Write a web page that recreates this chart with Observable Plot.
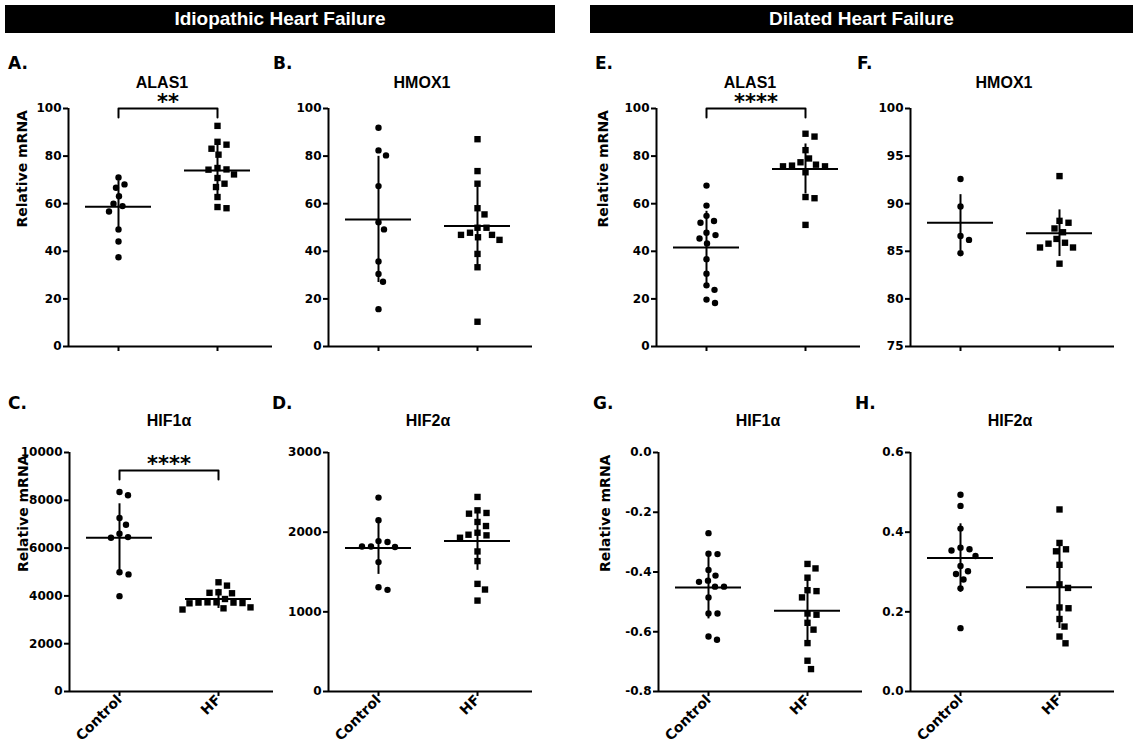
<!DOCTYPE html>
<html><head><meta charset="utf-8">
<script src="https://cdn.jsdelivr.net/npm/d3@7"></script>
<script src="https://cdn.jsdelivr.net/npm/@observablehq/plot@0.6"></script>
<style>
body{margin:0;background:#fff;}
#fig{position:relative;width:1136px;height:751px;overflow:hidden;background:#fff;font-family:"Liberation Sans",Arial,sans-serif;color:#000;}
.hdr{position:absolute;background:#000;color:#fff;font-weight:bold;font-size:19px;display:flex;align-items:center;justify-content:center;}
.letter{position:absolute;font-family:"DejaVu Sans",sans-serif;font-weight:bold;font-size:17px;line-height:1;transform:translateY(-50%);}
.ttl{position:absolute;font-weight:bold;font-size:16px;line-height:1;transform:translate(-50%,-50%);white-space:nowrap;}
</style></head><body><div id="fig"></div><script>
// ---------------- data ----------------
const groups = ["Control", "HF"];
const headers = ["Idiopathic Heart Failure", "Dilated Heart Failure"];
const panelIds = ["A", "B", "C", "D", "E", "F", "G", "H"];
const genes = ["ALAS1", "HMOX1", "HIF1α", "HIF2α", "ALAS1", "HMOX1", "HIF1α", "HIF2α"];
const yLabel = "Relative mRNA";
const yDomains = [[0,100],[0,100],[0,10000],[0,3000],[0,100],[75,100],[-0.8,0],[0,0.6]];
const yTicks = [
  [0,20,40,60,80,100],
  [0,20,40,60,80,100],
  [0,2000,4000,6000,8000,10000],
  [0,1000,2000,3000],
  [0,20,40,60,80,100],
  [75,80,85,90,95,100],
  [-0.8,-0.6,-0.4,-0.2,0],
  [0,0.2,0.4,0.6]
];
const tickDecimals = [0,0,0,0,0,0,1,1];
const significance = ["**", "", "****", "", "****", "", "", ""];
const bracketLevel = [100, null, 9250, null, 100, null, null, null];

const A_control = [71, 68.1, 66.7, 63.1, 59.0, 60.0, 56.7, 49.2, 44.1, 37.5];
const A_hf = [92.7, 86.0, 84.8, 83.1, 80.6, 75.0, 74.4, 74.3, 70.8, 72.3, 68.4, 67.0, 62.8, 58.1, 58.6];
const B_control = [91.9, 82.4, 80.3, 67.4, 52.2, 49.2, 35.7, 30.5, 27.2, 15.7];
const B_hf = [87.1, 73.7, 68.4, 58.1, 55.5, 49.9, 49.9, 46.9, 45.9, 44.8, 46.9, 47.8, 38.9, 33.3, 10.4];
const C_control = [8210, 8350, 7260, 6980, 6600, 6430, 6460, 4990, 4900, 3990];
const C_hf = [4570, 4430, 4150, 4110, 4130, 3870, 3730, 3720, 3700, 3690, 3730, 3720, 3480, 3430, 3520];
const D_control = [2434, 2149, 1888, 1821, 1821, 1813, 1876, 1624, 1276, 1309];
const D_hf = [2442, 2241, 2232, 2274, 2128, 2077, 1993, 1960, 1930, 1968, 1758, 1637, 1351, 1280, 1141];
const E_control = [67.6, 59.2, 52.7, 52.0, 54.9, 46.8, 47.8, 45.4, 43.3, 36.7, 30.6, 25.7, 23.8, 19.7, 18.3];
const E_hf = [89.4, 88.2, 82.5, 79.0, 77.4, 76.4, 75.7, 76.0, 75.7, 73.2, 62.8, 62.3, 51.1];
const F_control = [92.6, 89.7, 86.6, 86.2, 84.8];
const F_hf = [92.9, 88.2, 88.0, 87.4, 87.0, 85.9, 85.4, 85.4, 85.8, 86.3, 83.7];
const G_control = [-0.270, -0.339, -0.340, -0.393, -0.412, -0.429, -0.433, -0.449, -0.449, -0.485, -0.539, -0.539, -0.627, -0.616];
const G_hf = [-0.373, -0.388, -0.419, -0.461, -0.464, -0.485, -0.539, -0.543, -0.570, -0.593, -0.638, -0.697, -0.725];
const H_control = [0.494, 0.466, 0.409, 0.357, 0.340, 0.354, 0.361, 0.315, 0.302, 0.295, 0.281, 0.259, 0.159];
const H_hf = [0.457, 0.357, 0.352, 0.373, 0.318, 0.269, 0.260, 0.209, 0.211, 0.182, 0.163, 0.138, 0.121];

const meanControl = [58.7, 53.4, 6434, 1800, 41.6, 88.0, -0.452, 0.335];
const meanHF      = [74.0, 50.6, 3874, 1888, 74.6, 86.9, -0.530, 0.262];
const sdControl   = [10.9, 26.5, 1420, 330, 15.2, 2.95, 0.105, 0.086];
const sdHF        = [10.5, 16.5, 400, 367, 10.5, 2.45, 0.103, 0.104];

const panelValues = [
  [A_control, A_hf], [B_control, B_hf], [C_control, C_hf], [D_control, D_hf],
  [E_control, E_hf], [F_control, F_hf], [G_control, G_hf], [H_control, H_hf]
];

// ---------------- layout ----------------
const fig = document.getElementById("fig");
const gridPos = {A:[0,0], B:[0,1], E:[0,2], F:[0,3], C:[1,0], D:[1,1], G:[1,2], H:[1,3]};
const axisXPos = [[68, 328, 656, 910], [69, 328, 658, 910]];
const frameTop = [108, 452], frameH = [238, 239];
const padL = 50, step = 99, padR = 55, fw = padL + step + padR;
const labelDx = [-46, null, -53, null];
const letterX = [[8, 273, 595, 857], [8, 272, 593, 855]];
const letterY = [63, 403];
const titleDx = [94, 100], titleY = [83, 421];
const dotR = 3.2, sqR = 3.6, meanHalfPx = 33, swarmGap = 9;

// headers
[[5, 555], [590, 1133]].forEach(([x0, x1], k) => {
  const d = document.createElement("div");
  d.className = "hdr";
  Object.assign(d.style, {left: x0 + "px", top: "5px", width: (x1 - x0) + "px", height: "28px"});
  d.textContent = headers[k];
  fig.appendChild(d);
});

function dodge(vals, yScale, gap) {
  const order = d3.range(vals.length).sort((a, b) => vals[b] - vals[a]);
  const placed = [];
  const off = new Array(vals.length).fill(0);
  for (const i of order) {
    const py = yScale(vals[i]);
    let chosen = 0;
    for (let k = 0; k < 400; k++) {
      const c = k === 0 ? 0 : (k % 2 ? 1 : -1) * Math.ceil(k / 2) * 0.5;
      if (placed.every(p => (p.x - c) ** 2 + (p.y - py) ** 2 >= gap * gap)) { chosen = c; break; }
    }
    placed.push({x: chosen, y: py});
    off[i] = chosen;
  }
  return off;
}

panelIds.forEach((id, i) => {
  const [row, col] = gridPos[id];
  const ax = axisXPos[row][col];
  const fh = frameH[row];
  const ml = 70, mr = 6, mt = 32, mb = row ? 64 : 12;
  const xdom = [1 - padL / step, 2 + padR / step];
  const ydom = yDomains[i];
  const yScale = d3.scaleLinear(ydom, [fh, 0]);
  const pxToY = (ydom[1] - ydom[0]) / fh;

  const pts = [[], []];
  panelValues[i].forEach((vals, g) => {
    const off = dodge(vals, yScale, swarmGap);
    vals.forEach((v, j) => pts[g].push({x: g + 1 + off[j] / step, y: v}));
  });
  const stats = [
    {x: 1, mean: meanControl[i], sd: sdControl[i]},
    {x: 2, mean: meanHF[i], sd: sdHF[i]}
  ];
  const fmt = d => d.toFixed(tickDecimals[i]);
  const font = "DejaVu Sans";

  const marks = [
    Plot.ruleY([ydom[0]], {stroke: "#000", strokeWidth: 2}),
    Plot.ruleX([xdom[0]], {stroke: "#000", strokeWidth: 2}),
    Plot.axisY({ticks: yTicks[i], tickFormat: fmt, tickSize: 5, tickPadding: 2, strokeWidth: 2,
      fontSize: 12, fontWeight: "bold", fontFamily: font, label: null}),
    row
      ? Plot.axisX({ticks: [1, 2], tickFormat: d => groups[d - 1], tickSize: 5, tickPadding: 1, tickRotate: -45,
          strokeWidth: 2, fontSize: 14, fontWeight: "bold", fontFamily: font, label: null})
      : Plot.axisX({ticks: [1, 2], tickFormat: () => "", tickSize: 5, strokeWidth: 2, label: null}),
    Plot.ruleX(stats, {x: "x", y1: d => d.mean - d.sd, y2: d => d.mean + d.sd, stroke: "#000", strokeWidth: 2}),
    Plot.ruleY(stats, {y: "mean", x1: d => d.x - meanHalfPx / step, x2: d => d.x + meanHalfPx / step, stroke: "#000", strokeWidth: 2}),
    Plot.dot(pts[0], {x: "x", y: "y", r: dotR, fill: "#000", stroke: "none", symbol: "circle"}),
    Plot.dot(pts[1], {x: "x", y: "y", r: sqR, fill: "#000", stroke: "none", symbol: "square"})
  ];
  if (bracketLevel[i] != null) {
    const b = bracketLevel[i], t = 9 * pxToY;
    marks.push(Plot.line([{x: 1, y: b - t}, {x: 1, y: b}, {x: 2, y: b}, {x: 2, y: b - t}],
      {x: "x", y: "y", stroke: "#000", strokeWidth: 2, curve: "linear"}));
    marks.push(Plot.text([significance[i]], {x: () => 1.5, y: () => b, text: d => d, dy: -6,
      fontSize: 21, fontWeight: "bold", fontFamily: font, fill: "#000"}));
  }
  if (labelDx[col] != null) {
    marks.push(Plot.text([yLabel], {frameAnchor: "left", text: d => d, rotate: -90, dx: labelDx[col],
      fontSize: 14, fontWeight: "bold", fontFamily: font, fill: "#000"}));
  }

  const svg = Plot.plot({
    width: ml + fw + mr, height: mt + fh + mb,
    marginLeft: ml, marginRight: mr, marginTop: mt, marginBottom: mb,
    x: {domain: xdom, label: null},
    y: {domain: ydom, label: null},
    style: {background: "transparent", overflow: "visible", color: "#000"},
    marks
  });
  Object.assign(svg.style, {position: "absolute", left: (ax - ml) + "px", top: (frameTop[row] - mt) + "px", maxWidth: "none"});
  fig.appendChild(svg);

  const L = document.createElement("div");
  L.className = "letter";
  L.style.left = letterX[row][col] + "px";
  L.style.top = letterY[row] + "px";
  L.textContent = id + ".";
  fig.appendChild(L);

  const T = document.createElement("div");
  T.className = "ttl";
  T.style.left = (ax + titleDx[row]) + "px";
  T.style.top = titleY[row] + "px";
  T.textContent = genes[i];
  fig.appendChild(T);
});
</script></body></html>
